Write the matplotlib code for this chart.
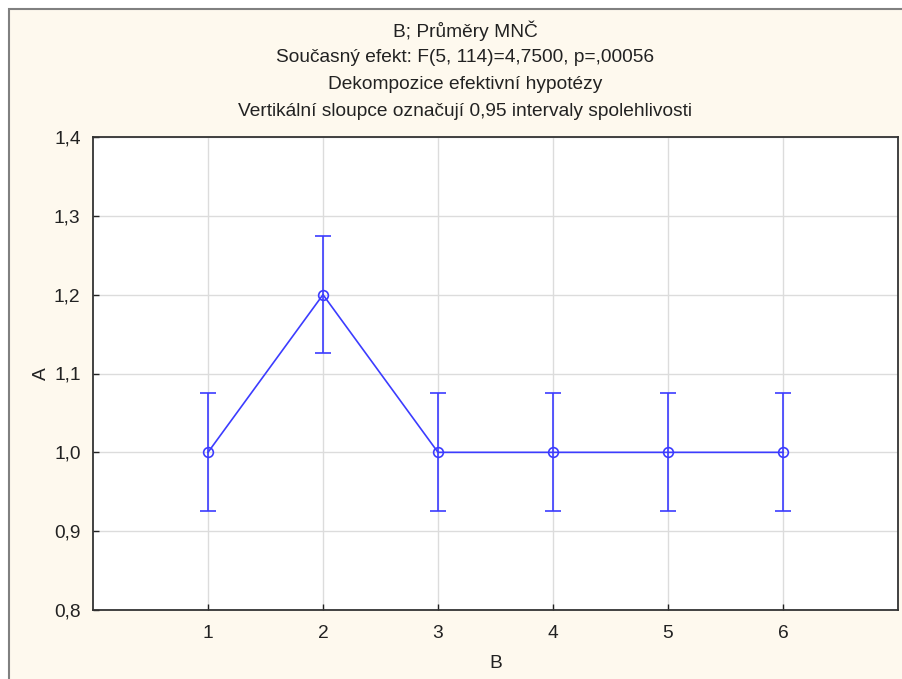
import matplotlib.pyplot as plt
from matplotlib.patches import Rectangle
from matplotlib.ticker import FuncFormatter

plt.rcParams['font.family'] = ['Liberation Sans', 'DejaVu Sans']

# data
b_levels = [1, 2, 3, 4, 5, 6]
means = [1.0, 1.2, 1.0, 1.0, 1.0, 1.0]
ci_half = [0.075, 0.074, 0.075, 0.075, 0.075, 0.075]

title_lines = [
    "B; Průměry MNČ",
    "Současný efekt: F(5, 114)=4,7500, p=,00056",
    "Dekompozice efektivní hypotézy",
    "Vertikální sloupce označují 0,95 intervaly spolehlivosti",
]

bg = '#fef9ee'
blue = '#3c3cff'
fs = 13.8

fig = plt.figure(figsize=(9.02, 6.79), dpi=100)
fig.patch.set_facecolor('white')
# cream panel with grey frame (cut at right/bottom like the screenshot)
fig.patches.append(Rectangle((9 / 902, -0.05), 1.0, 1 - 9 / 679 + 0.05,
                             transform=fig.transFigure, facecolor=bg,
                             edgecolor='#808080', linewidth=1.5, zorder=-5))

ax = fig.add_axes([93 / 902, 1 - 610 / 679, 805 / 902, 473 / 679])
ax.set_zorder(2)
ax.set_facecolor('white')

ax.errorbar(b_levels, means, yerr=ci_half, color=blue, linewidth=1.2,
            marker='o', markersize=7, markerfacecolor='none',
            markeredgecolor=blue, markeredgewidth=1.2,
            capsize=6, capthick=1.2, elinewidth=1.2, zorder=3)

ax.set_xlim(0, 7)
ax.set_ylim(0.8, 1.4)
ax.set_xticks(b_levels)
ax.set_yticks([0.8, 0.9, 1.0, 1.1, 1.2, 1.3, 1.4])
ax.yaxis.set_major_formatter(FuncFormatter(lambda v, p: f"{v:.1f}".replace('.', ',')))
ax.grid(True, color='#dcdcdc', linewidth=1.0, zorder=0)
ax.set_axisbelow(True)
ax.tick_params(direction='in', length=4, width=1, labelsize=fs,
               colors='#222222')
ax.tick_params(axis='x', pad=11)
ax.tick_params(axis='y', pad=9)
for s in ax.spines.values():
    s.set_color('#333333')
    s.set_linewidth(1.3)

ax.set_xlabel('B', fontsize=fs, labelpad=9, color='#222222')
ax.set_ylabel('A', fontsize=fs, labelpad=3, color='#222222')

for i, line in enumerate(title_lines):
    fig.text(465 / 902, 1 - (31 + 26.7 * i) / 679, line, ha='center',
             va='center', fontsize=fs, color='#222222')

fig.savefig('out.png', dpi=100, facecolor=fig.get_facecolor())
